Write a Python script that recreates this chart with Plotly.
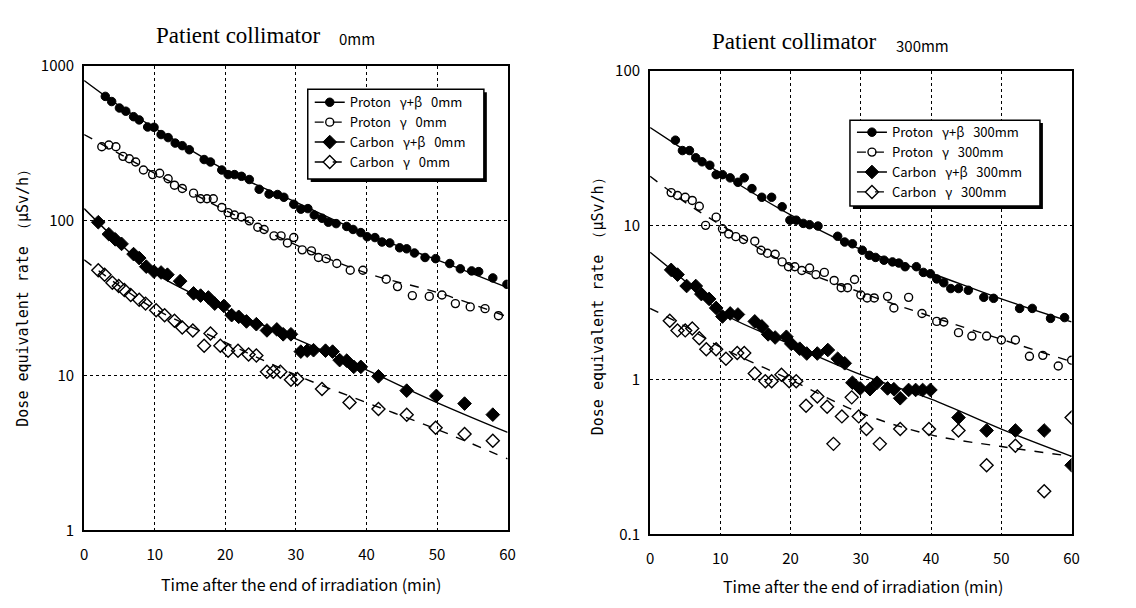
import plotly.graph_objects as go

W, H = 1136, 608

# ---------------- data: Patient collimator 0 mm ----------------
p0_tb_t = [3.0, 3.9, 5.0, 5.9, 7.0, 7.8, 9.0, 9.9, 10.9, 11.9, 12.9, 13.9, 14.9, 17.0, 17.9, 19.5, 20.4,
           21.3, 22.3, 23.4, 24.8, 26.2, 27.4, 28.3, 29.7, 30.7, 31.7, 32.6, 33.7, 34.6, 35.7, 37.2, 38.1,
           39.2, 40.1, 41.2, 42.2, 43.3, 44.7, 45.7, 46.8, 48.3, 49.8, 51.8, 53.3, 54.9, 55.9, 57.9, 59.9]
p0_tb_v = [637, 590, 536, 511, 471, 449, 404, 402, 361, 345, 318, 306, 288, 249, 240, 213, 199,
           199, 194, 185, 160, 149, 148, 142, 128, 119, 120, 109, 104, 98, 96, 92, 88,
           84, 79, 78, 73, 72, 67, 66, 62, 58, 57, 53, 49, 47.5, 47, 42.8, 38.9]

p0_g_t = [2.5, 3.5, 4.5, 5.5, 6.4, 7.3, 8.4, 9.7, 10.7, 11.9, 12.8, 13.9, 15.5, 16.5, 17.4, 18.3, 19.5,
          20.4, 21.3, 22.3, 23.4, 24.6, 25.5, 26.9, 27.9, 28.8, 29.7, 30.9, 32.2, 33.2, 34.3, 35.8,
          37.7, 39.5, 42.8, 44.4, 46.5, 48.9, 50.7, 52.6, 54.7, 56.8, 58.7]
p0_g_v = [301, 309, 301, 261, 252, 240, 213, 199, 203, 187, 170, 162, 151, 139, 139, 139, 122,
          113, 109, 106, 100, 91, 88, 80, 80, 72, 78, 65, 64, 58, 57, 53,
          48, 48, 42, 37.6, 32.9, 32.5, 33.2, 29.2, 27.8, 27.1, 24.4]

c0_tb_t = [2.0, 3.5, 4.4, 5.3, 7.0, 7.8, 8.8, 9.9, 10.9, 11.8, 13.6, 15.5, 16.5, 17.6, 18.5, 19.8,
           20.9, 21.9, 23.0, 24.4, 25.9, 27.3, 28.2, 29.3, 30.7, 31.6, 32.5, 34.2, 35.2, 36.2, 37.2,
           38.2, 39.2, 41.7, 45.7, 49.9, 53.9, 57.9]
c0_tb_v = [98, 82, 76, 71, 61, 57.5, 50.6, 47, 46.4, 44.9, 40.8, 34, 32.9, 32, 29.2, 28.2,
           24.6, 24, 22.4, 21.5, 19.6, 19.9, 18.5, 18.5, 14.3, 14.5, 14.6, 14.5, 14.3, 12.6, 12.5,
           11.4, 11.4, 9.9, 8.0, 7.4, 6.6, 5.6]

c0_g_t = [2.0, 2.9, 4.0, 4.9, 5.7, 6.6, 7.8, 8.7, 10.2, 11.4, 12.8, 13.9, 15.4, 17.0, 17.9, 19.3,
          20.4, 21.8, 23.3, 24.4, 25.9, 26.8, 27.8, 29.3, 30.2, 33.7, 37.6, 41.7, 45.7, 49.8, 53.9, 57.9]
c0_g_v = [48, 44.9, 39.8, 38, 35.8, 33.2, 30.9, 29.2, 26.5, 24.6, 22.6, 20.5, 19.6, 15.6, 18.7, 15.6,
          14.5, 14.5, 13.7, 13.5, 10.6, 10.6, 10.6, 9.4, 9.5, 8.2, 6.7, 6.1, 5.6, 4.6, 4.2, 3.8]

# ---------------- data: Patient collimator 300 mm ----------------
p3_tb_t = [3.6, 4.6, 5.6, 6.5, 7.4, 8.5, 9.4, 10.3, 11.4, 12.5, 13.4, 14.5, 15.9, 17.3, 18.8, 19.9,
           20.8, 21.8, 22.7, 23.9, 26.7, 27.7, 28.8, 30.2, 31.2, 32.1, 33.3, 34.5, 35.4, 36.3, 37.9,
           38.9, 39.9, 40.8, 41.8, 42.8, 43.9, 45.3, 47.5, 48.9, 52.6, 54.4, 57.0, 59.0]
p3_tb_v = [35.6, 30.5, 30.5, 27.4, 25.8, 24.5, 21.3, 21.3, 20.3, 19.0, 20.3, 17.3, 15.2, 15.2, 13.2, 10.8,
           10.8, 10.3, 10.1, 9.9, 8.5, 7.8, 7.6, 6.9, 6.4, 6.2, 5.95, 5.8, 5.7, 5.4, 5.4,
           4.96, 4.86, 4.5, 4.25, 3.9, 3.9, 3.8, 3.42, 3.37, 2.9, 2.9, 2.5, 2.53]

p3_g_t = [3.0, 3.9, 5.0, 6.0, 7.0, 7.9, 9.4, 10.3, 11.2, 12.2, 13.3, 14.9, 15.8, 16.7, 17.8, 18.8,
          19.7, 20.6, 21.6, 22.7, 23.6, 24.8, 26.2, 27.2, 28.1, 29.1, 30.0, 30.9, 31.9, 33.8, 34.7,
          36.8, 38.7, 40.8, 41.8, 43.9, 45.8, 47.9, 50.0, 52.0, 54.0, 55.9, 58.1, 60.0]
p3_g_v = [16.3, 15.6, 15.2, 14.5, 13.3, 10.0, 11.3, 9.5, 8.8, 8.45, 8.1, 7.9, 6.9, 6.6, 6.5, 5.8,
          5.4, 5.4, 5.1, 5.3, 4.8, 4.96, 4.4, 3.95, 3.95, 4.46, 3.54, 3.39, 3.39, 3.47, 2.92,
          3.42, 2.69, 2.39, 2.37, 2.02, 1.92, 1.92, 1.81, 1.81, 1.42, 1.44, 1.23, 1.34]

c3_tb_t = [3.0, 3.9, 5.2, 6.5, 7.3, 8.4, 9.4, 10.3, 11.4, 12.5, 14.9, 15.9, 16.8, 17.8, 19.4, 20.1,
           21.3, 22.3, 23.8, 25.3, 26.7, 27.7, 28.8, 29.9, 31.3, 32.3, 33.8, 34.7, 35.6, 36.8, 37.8,
           38.8, 39.9, 43.9, 47.9, 52.0, 56.1, 60.0]
c3_tb_v = [5.15, 4.8, 4.05, 4.05, 3.59, 3.34, 2.92, 2.57, 2.69, 2.65, 2.39, 2.22, 1.97, 1.88, 1.90, 1.71,
           1.59, 1.48, 1.48, 1.56, 1.37, 1.28, 0.958, 0.88, 0.87, 0.958, 0.88, 0.87, 0.76, 0.86, 0.86,
           0.86, 0.86, 0.57, 0.47, 0.47, 0.47, 0.28]

c3_g_t = [2.8, 3.9, 5.0, 6.0, 7.0, 8.0, 9.4, 10.8, 12.4, 13.4, 14.9, 16.4, 17.3, 18.7, 19.8, 20.8,
          22.2, 23.8, 25.2, 26.1, 27.3, 28.7, 29.7, 30.8, 32.7, 35.6, 39.7, 43.9, 47.9, 52.0, 56.1, 60.0]
c3_g_v = [2.41, 2.09, 2.09, 2.15, 1.86, 1.58, 1.58, 1.37, 1.49, 1.49, 1.10, 0.98, 0.98, 1.08, 0.98, 0.98,
          0.68, 0.78, 0.67, 0.385, 0.58, 0.77, 0.58, 0.48, 0.385, 0.48, 0.48, 0.47, 0.28, 0.375, 0.19, 0.57]

# ---------------- fitted curves ----------------
fit_t = [0, 5, 10, 20, 30, 40, 50, 60]
fit_p0_tb = [806, 552, 398, 213, 132, 82, 56, 37]
fit_p0_g = [361, 271, 203, 117, 70, 46, 34.5, 24]
fit_c0_tb = [120, 72, 46, 27, 17.3, 10.9, 6.7, 4.3]
fit_c0_g = [56, 38, 27, 16.4, 10.1, 6.7, 4.5, 2.9]
fit_p3_tb = [43, 30.5, 21.8, 11.7, 7.0, 4.9, 3.34, 2.37]
fit_p3_g = [20.8, 14.1, 10.1, 5.5, 3.68, 2.57, 1.83, 1.31]
fit_c3_tb = [6.7, 4.35, 2.75, 1.7, 1.08, 0.75, 0.48, 0.32]
fit_c3_g = [2.9, 2.22, 1.63, 1.0, 0.61, 0.44, 0.37, 0.32]

x_ticks = [0, 10, 20, 30, 40, 50, 60]
y_ticks_left = [1, 10, 100, 1000]
y_ticks_right = [0.1, 1, 10, 100]

SP = "\u00a0\u00a0\u00a0"
names_left = [f"Proton{SP}γ+β{SP}0mm", f"Proton{SP}γ{SP}0mm",
              f"Carbon{SP}γ+β{SP}0mm", f"Carbon{SP}γ{SP}0mm"]
names_right = [f"Proton{SP}γ+β{SP}300mm", f"Proton{SP}γ{SP}300mm",
               f"Carbon{SP}γ+β{SP}300mm", f"Carbon{SP}γ{SP}300mm"]

NARROW = "Noto Sans CJK JP, Liberation Sans, sans-serif"
MONO = "DejaVu Sans Mono, Liberation Mono, monospace"
SERIF = "Liberation Serif, Times New Roman, serif"

def px(x):
    return x / W

def py(y):
    return 1 - y / H

markers = {
    "fc": dict(symbol="circle", size=8.5, color="black", line=dict(color="black", width=1)),
    "oc": dict(symbol="circle-open", size=8, color="black", line=dict(color="black", width=1.4)),
    "fd": dict(symbol="diamond", size=10.5, color="black", line=dict(color="black", width=1)),
    "od": dict(symbol="diamond-open", size=10, color="black", line=dict(color="black", width=1.4)),
}

fig = go.Figure()

panels = [
    ("x", "y", "legend", names_left,
     [(p0_tb_t, p0_tb_v, fit_p0_tb, "fc", "solid"),
      (p0_g_t, p0_g_v, fit_p0_g, "oc", "dash"),
      (c0_tb_t, c0_tb_v, fit_c0_tb, "fd", "solid"),
      (c0_g_t, c0_g_v, fit_c0_g, "od", "dash")]),
    ("x2", "y2", "legend2", names_right,
     [(p3_tb_t, p3_tb_v, fit_p3_tb, "fc", "solid"),
      (p3_g_t, p3_g_v, fit_p3_g, "oc", "dash"),
      (c3_tb_t, c3_tb_v, fit_c3_tb, "fd", "solid"),
      (c3_g_t, c3_g_v, fit_c3_g, "od", "dash")]),
]

for xa, ya, leg, names, series in panels:
    for (t, v, fit, mk, dash), name in zip(series, names):
        fig.add_trace(go.Scatter(x=fit_t, y=fit, mode="lines", xaxis=xa, yaxis=ya,
                                 line=dict(color="black", width=1.4, dash=dash, shape="spline"),
                                 showlegend=False, hoverinfo="skip"))
        fig.add_trace(go.Scatter(x=t, y=v, mode="markers", xaxis=xa, yaxis=ya,
                                 marker=markers[mk], showlegend=False, name=name))
    for (t, v, fit, mk, dash), name in zip(series, names):
        fig.add_trace(go.Scatter(x=[None], y=[None], mode="lines+markers", xaxis=xa, yaxis=ya,
                                 line=dict(color="black", width=1.4, dash=dash),
                                 marker=markers[mk], name=name, legend=leg, showlegend=True))

axis_common = dict(showline=True, mirror=True, linecolor="black", linewidth=2,
                   showgrid=True, gridcolor="black", gridwidth=1.2, zeroline=False, ticks="",
                   tickfont=dict(family=NARROW, size=15, color="black"))

LEG_FONT = dict(family=NARROW, size=13, color="black")

fig.update_layout(
    width=W, height=H,
    margin=dict(l=0, r=0, t=0, b=0),
    paper_bgcolor="white", plot_bgcolor="white",
    xaxis=dict(domain=[px(81), px(509)], range=[0, 60], tickvals=x_ticks, anchor="y",
               griddash="3px,3px", ticklabelstandoff=10, **axis_common),
    yaxis=dict(domain=[py(537), py(56)], type="log", range=[0, 3], tickvals=y_ticks_left,
               ticktext=[str(v) for v in y_ticks_left], anchor="x", griddash="dot",
               ticklabelstandoff=5, **axis_common),
    xaxis2=dict(domain=[px(653), px(1079)], range=[0, 60], tickvals=x_ticks, anchor="y2",
                griddash="3px,3px", ticklabelstandoff=10, **axis_common),
    yaxis2=dict(domain=[py(541), py(61)], type="log", range=[-1, 2], tickvals=y_ticks_right,
                ticktext=["0.1", "1", "10", "100"], anchor="x2", griddash="dot",
                ticklabelstandoff=5, **axis_common),
    legend=dict(x=px(309), y=py(78), xanchor="left", yanchor="top", bgcolor="rgba(0,0,0,0)",
                borderwidth=0, font=LEG_FONT, tracegroupgap=0),
    legend2=dict(x=px(857), y=py(109), xanchor="left", yanchor="top", bgcolor="rgba(0,0,0,0)",
                 borderwidth=0, font=LEG_FONT, tracegroupgap=0),
    showlegend=True,
)

# legend boxes with drop shadow
shapes = []
for (x0, y0, x1, y1) in [(307, 80, 485, 173), (855, 112, 1047, 201)]:
    shapes.append(dict(type="rect", xref="paper", yref="paper", x0=px(x0 + 3), x1=px(x1 + 3),
                       y0=py(y1 + 3), y1=py(y0 + 3), fillcolor="black", line=dict(width=0), layer="above"))
    shapes.append(dict(type="rect", xref="paper", yref="paper", x0=px(x0), x1=px(x1),
                       y0=py(y1), y1=py(y0), fillcolor="white", line=dict(color="black", width=1.5),
                       layer="above"))
fig.update_layout(shapes=shapes)

def note(text, x, y, family, size, angle=0):
    return dict(text=text, x=px(x), y=py(y), xref="paper", yref="paper", showarrow=False,
                xanchor="center", yanchor="middle", textangle=angle,
                font=dict(family=family, size=size, color="black"))

ytitle = "Dose equivalent rate （μSv/h）"
xtitle = "Time after the end of irradiation (min)"
ann = [
    note("Patient collimator", 237, 24, SERIF, 23),
    note("0mm", 357, 27, NARROW, 15),
    note("Patient collimator", 798, 31, SERIF, 23),
    note("300mm", 928, 35, NARROW, 15),
    note(ytitle, 19, 292, MONO, 15, -90),
    note(ytitle, 600, 301, MONO, 15, -90),
    note(xtitle, 300, 592, NARROW, 16),
    note(xtitle, 868, 595, NARROW, 16),
]
fig.update_layout(annotations=ann)

fig.write_html("out.html")
